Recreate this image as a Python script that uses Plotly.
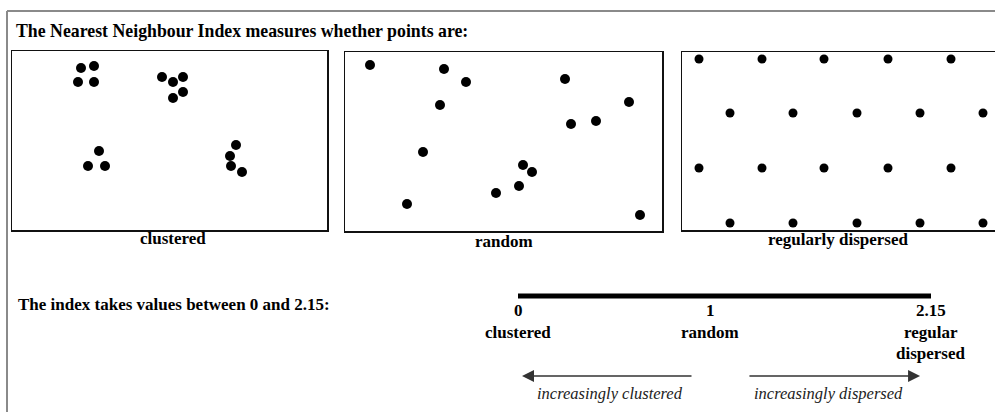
import plotly.graph_objects as go

W, H = 995, 412

# ---- data (panel-local units: x from left edge, y from top edge) ----
cluster_x = [69, 82, 66, 82, 150, 161, 171, 171, 161, 87, 76, 93, 224, 218, 219, 230]
cluster_y = [17, 15, 31, 31, 26, 31, 26, 41, 47, 100, 115, 115, 94, 105, 115, 121]

random_x = [25, 99, 121, 95, 220, 284, 226, 251, 78, 178, 187, 174, 151, 62, 295]
random_y = [13, 17, 30, 53, 27, 50, 72, 69, 100, 113, 120, 134, 141, 152, 163]

regular_x = [17, 80, 142, 206, 269,
             48, 111, 175, 238, 301,
             17, 80, 142, 206, 269,
             48, 111, 175, 238, 301]
regular_y = [7, 7, 7, 7, 7,
             61, 61, 61, 61, 61,
             116, 116, 116, 116, 116,
             171, 171, 171, 171, 171]

panel_labels = ["clustered", "random", "regularly dispersed"]

index_min, index_random, index_max = 0, 1, 2.15
index_ticks = [index_min, index_random, index_max]
index_tick_labels = ["0", "1", "2.15"]
index_meanings = ["clustered", "random", "regular"]
arrow_clustered = (0.911, 0.021)   # tail, tip on index scale
arrow_dispersed = (1.197, 2.093)

SERIF = "Liberation Serif"

def px_x(p):
    return p / W

def px_y(p):
    return 1 - p / H

fig = go.Figure()

fig.add_trace(go.Scatter(x=cluster_x, y=cluster_y, mode="markers",
                         marker=dict(size=10, color="black"),
                         xaxis="x", yaxis="y", hoverinfo="skip"))
fig.add_trace(go.Scatter(x=random_x, y=random_y, mode="markers",
                         marker=dict(size=10, color="black"),
                         xaxis="x2", yaxis="y2", hoverinfo="skip"))
fig.add_trace(go.Scatter(x=regular_x, y=regular_y, mode="markers",
                         marker=dict(size=9, color="black"),
                         xaxis="x3", yaxis="y3", hoverinfo="skip"))
# index scale bar
fig.add_trace(go.Scatter(x=[index_min, index_max], y=[0, 0], mode="lines",
                         line=dict(color="black", width=5),
                         xaxis="x4", yaxis="y4", hoverinfo="skip"))

ax_common = dict(showgrid=False, zeroline=False, showticklabels=False,
                 ticks="", fixedrange=True)
line_style = dict(showline=True, linecolor="#111", linewidth=1.5)

layout = dict(
    width=W, height=H,
    margin=dict(l=0, r=0, t=0, b=0),
    paper_bgcolor="white", plot_bgcolor="white",
    showlegend=False,
    xaxis=dict(domain=[px_x(12), px_x(327)], range=[0, 315], mirror=True,
               anchor="y", **line_style, **ax_common),
    yaxis=dict(domain=[px_y(230), px_y(51)], range=[179, 0], mirror=True,
               anchor="x", **line_style, **ax_common),
    xaxis2=dict(domain=[px_x(345), px_x(662)], range=[0, 317], mirror=True,
                anchor="y2", **line_style, **ax_common),
    yaxis2=dict(domain=[px_y(231), px_y(52)], range=[179, 0], mirror=True,
                anchor="x2", **line_style, **ax_common),
    xaxis3=dict(domain=[px_x(682), 1], range=[0, 313], mirror=True,
                anchor="y3", **line_style, **ax_common),
    yaxis3=dict(domain=[px_y(230), px_y(52)], range=[178, 0], mirror=False,
                anchor="x3", **line_style, **ax_common),
    xaxis4=dict(domain=[px_x(518), px_x(931)], range=[index_min, index_max],
                anchor="y4", visible=False, fixedrange=True),
    yaxis4=dict(domain=[px_y(306), px_y(286)], range=[-1, 1],
                anchor="x4", visible=False, fixedrange=True),
)
fig.update_layout(**layout)

ann = []
ann.append(dict(text="The Nearest Neighbour Index measures whether points are:",
                x=px_x(14), y=px_y(31), xref="paper", yref="paper",
                xanchor="left", yanchor="middle", showarrow=False,
                font=dict(family=SERIF, size=17.8, color="black", weight="bold")))
label_centres = [173, 504, 838]
label_rows = [239, 242, 240]
for lab, cx, cy in zip(panel_labels, label_centres, label_rows):
    ann.append(dict(text=lab, x=px_x(cx), y=px_y(cy), xref="paper", yref="paper",
                    xanchor="center", yanchor="middle", showarrow=False,
                    font=dict(family=SERIF, size=17, color="black", weight="bold")))
ann.append(dict(text="The index takes values between 0 and 2.15:",
                x=px_x(16), y=px_y(304), xref="paper", yref="paper",
                xanchor="left", yanchor="middle", showarrow=False,
                font=dict(family=SERIF, size=17, color="black", weight="bold")))
for v, t, m in zip(index_ticks, index_tick_labels, index_meanings):
    ann.append(dict(text=t, x=v, y=px_y(310), xref="x4", yref="paper",
                    xanchor="center", yanchor="middle", showarrow=False,
                    font=dict(family=SERIF, size=17, color="black", weight="bold")))
    ann.append(dict(text=m, x=v, y=px_y(332), xref="x4", yref="paper",
                    xanchor="center", yanchor="middle", showarrow=False,
                    font=dict(family=SERIF, size=17, color="black", weight="bold")))
ann.append(dict(text="dispersed", x=index_max, y=px_y(353), xref="x4", yref="paper",
                xanchor="center", yanchor="middle", showarrow=False,
                font=dict(family=SERIF, size=17, color="black", weight="bold")))
for (tail, tip) in (arrow_clustered, arrow_dispersed):
    ann.append(dict(text="", x=tip, y=px_y(376), xref="x4", yref="paper",
                    ax=tail, ay=0, axref="x4", ayref="pixel",
                    showarrow=True, arrowhead=2, arrowsize=1.6, arrowwidth=1.5,
                    arrowcolor="#333", standoff=0, startstandoff=0))
ann.append(dict(text="increasingly clustered", x=(arrow_clustered[0] + arrow_clustered[1]) / 2 + 0.015,
                y=px_y(393), xref="x4", yref="paper", xanchor="center", yanchor="middle",
                showarrow=False,
                font=dict(family=SERIF, size=16.5, color="#222", style="italic")))
ann.append(dict(text="increasingly dispersed", x=(arrow_dispersed[0] + arrow_dispersed[1]) / 2 - 0.03,
                y=px_y(393), xref="x4", yref="paper", xanchor="center", yanchor="middle",
                showarrow=False,
                font=dict(family=SERIF, size=16.5, color="#222", style="italic")))
fig.update_layout(annotations=ann)

# outer frame (left and top edges)
fig.update_layout(shapes=[
    dict(type="line", xref="paper", yref="paper", x0=px_x(7), x1=px_x(7),
         y0=0, y1=px_y(11), line=dict(color="#8a8a8a", width=2)),
    dict(type="line", xref="paper", yref="paper", x0=px_x(7), x1=1,
         y0=px_y(11), y1=px_y(11), line=dict(color="#8a8a8a", width=2)),
])

# remove the default page margin so the figure sits at the window's top-left corner
fig.write_html("out.html",
               config={"displayModeBar": False, "staticPlot": True},
               post_script="document.body.style.margin='0px';document.body.style.overflow='hidden';")
